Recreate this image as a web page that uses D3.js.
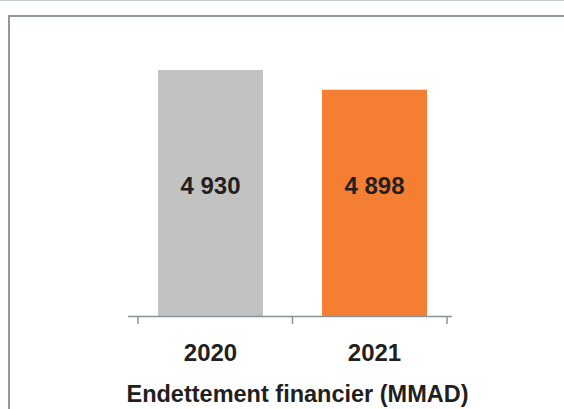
<!DOCTYPE html>
<html>
<head>
<meta charset="utf-8">
<script src="https://cdn.jsdelivr.net/npm/d3@7"></script>
<style>
  html, body { margin: 0; padding: 0; background: #fff; }
  text { font-family: "Liberation Sans", Arial, sans-serif; font-weight: bold; fill: #231f20; }
</style>
</head>
<body>
<div id="chart"></div>
<script>
const categories = ['2020', '2021'];
const values = [4930, 4898];
const valueLabels = ['4 930', '4 898'];
const barColors = ['#c1c2c1', '#f47f33'];
const title = 'Endettement financier (MMAD)';

const width = 564;
const height = 409;

const svg = d3.select('#chart')
  .append('svg')
  .attr('width', width)
  .attr('height', height);

// cadre
svg.append('line')
  .attr('x1', 0).attr('x2', width)
  .attr('y1', 0.5).attr('y2', 0.5)
  .attr('stroke', '#c9d0d2');

svg.append('rect')
  .attr('x', 9).attr('y', 16)
  .attr('width', width + 10).attr('height', height + 10)
  .attr('fill', 'none')
  .attr('stroke', '#8f999b')
  .attr('stroke-width', 2);

const x = d3.scaleBand()
  .domain(categories)
  .range([138, 447])
  .paddingInner(0.36)
  .paddingOuter(0.122);

const y = d3.scaleLinear()
  .domain([4530, 5000])
  .range([316, 27]);

svg.selectAll('rect.bar')
  .data(values)
  .enter().append('rect')
  .attr('class', 'bar')
  .attr('x', (d, i) => x(categories[i]))
  .attr('y', d => y(d))
  .attr('width', x.bandwidth())
  .attr('height', d => y.range()[0] - y(d))
  .attr('fill', (d, i) => barColors[i]);

// axe horizontal
const base = y.range()[0];
svg.append('line')
  .attr('x1', x.range()[0] - 10).attr('x2', x.range()[1] + 5)
  .attr('y1', base + 0.5).attr('y2', base + 0.5)
  .attr('stroke', '#8a9496')
  .attr('stroke-width', 1.5);

const ticks = [
  x.range()[0],
  (x(categories[0]) + x.bandwidth() + x(categories[1])) / 2,
  x.range()[1]
];
svg.selectAll('line.tick')
  .data(ticks)
  .enter().append('line')
  .attr('class', 'tick')
  .attr('x1', d => d).attr('x2', d => d)
  .attr('y1', base).attr('y2', base + 8)
  .attr('stroke', '#8a9496')
  .attr('stroke-width', 1.5);

// valeurs
const labelY = (y(d3.max(values)) + base) / 2 + 1;
svg.selectAll('text.val')
  .data(valueLabels)
  .enter().append('text')
  .attr('class', 'val')
  .attr('x', (d, i) => x(categories[i]) + x.bandwidth() / 2)
  .attr('y', labelY)
  .attr('text-anchor', 'middle')
  .style('font-size', '24px')
  .text(d => d);

// années
svg.selectAll('text.cat')
  .data(categories)
  .enter().append('text')
  .attr('class', 'cat')
  .attr('x', d => x(d) + x.bandwidth() / 2)
  .attr('y', 361)
  .attr('text-anchor', 'middle')
  .style('font-size', '24px')
  .text(d => d);

svg.append('text')
  .attr('x', 297.5)
  .attr('y', 402)
  .attr('text-anchor', 'middle')
  .style('font-size', '23.5px')
  .text(title);
</script>
</body>
</html>
